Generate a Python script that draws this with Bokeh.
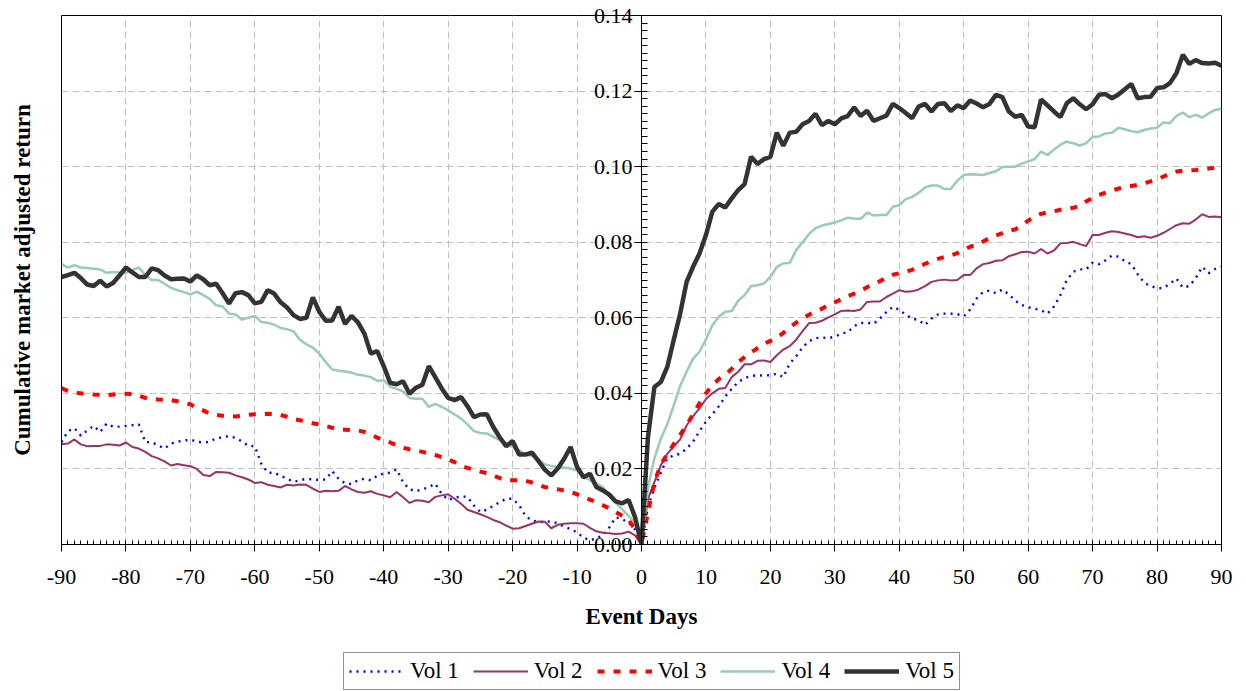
from bokeh.plotting import figure
from bokeh.layouts import column
from bokeh.models import (Legend, LegendItem, FixedTicker, Range1d, LinearAxis)
from bokeh.core.properties import value
from bokeh.embed import file_html
from bokeh.resources import INLINE

days = list(range(-90, 91))

vol1 = [
    0.0271, 0.0300, 0.0308, 0.0288, 0.0302, 0.0314, 0.0298, 0.0320, 0.0312, 0.0312,
    0.0314, 0.0316, 0.0318, 0.0271, 0.0271, 0.0262, 0.0254, 0.0267, 0.0272, 0.0275,
    0.0278, 0.0272, 0.0270, 0.0272, 0.0281, 0.0284, 0.0287, 0.0282, 0.0273, 0.0261,
    0.0260, 0.0214, 0.0190, 0.0190, 0.0182, 0.0174, 0.0166, 0.0170, 0.0174, 0.0172,
    0.0171, 0.0172, 0.0194, 0.0174, 0.0162, 0.0160, 0.0170, 0.0174, 0.0170, 0.0182,
    0.0188, 0.0190, 0.0199, 0.0165, 0.0146, 0.0141, 0.0146, 0.0152, 0.0161, 0.0134,
    0.0118, 0.0124, 0.0127, 0.0126, 0.0103, 0.0086, 0.0092, 0.0102, 0.0112, 0.0121,
    0.0121, 0.0105, 0.0075, 0.0064, 0.0059, 0.0060, 0.0061, 0.0056, 0.0047, 0.0041,
    0.0032, 0.0018, 0.0011, 0.0016, 0.0025, 0.0045, 0.0072, 0.0067, 0.0058, 0.0040,
    0.0000,
    0.0100, 0.0150, 0.0190, 0.0228, 0.0236, 0.0240, 0.0254, 0.0272, 0.0300, 0.0325,
    0.0345, 0.0366, 0.0392, 0.0412, 0.0430, 0.0440, 0.0446, 0.0448, 0.0447, 0.0448,
    0.0452, 0.0443, 0.0479, 0.0498, 0.0522, 0.0538, 0.0546, 0.0548, 0.0546, 0.0550,
    0.0558, 0.0562, 0.0578, 0.0586, 0.0587, 0.0584, 0.0598, 0.0615, 0.0629, 0.0621,
    0.0608, 0.0598, 0.0594, 0.0581, 0.0598, 0.0609, 0.0611, 0.0611, 0.0610, 0.0604,
    0.0622, 0.0651, 0.0668, 0.0672, 0.0665, 0.0675, 0.0662, 0.0645, 0.0634, 0.0628,
    0.0624, 0.0620, 0.0611, 0.0630, 0.0660, 0.0700, 0.0722, 0.0728, 0.0728, 0.0746,
    0.0742, 0.0752, 0.0765, 0.0762, 0.0750, 0.0742, 0.0715, 0.0693, 0.0684, 0.0678,
    0.0679, 0.0690, 0.0704, 0.0680, 0.0684, 0.0705, 0.0735, 0.0718, 0.0729, 0.0735,
]

vol2 = [
    0.0265, 0.0267, 0.0278, 0.0265, 0.0260, 0.0261, 0.0261, 0.0265, 0.0264, 0.0262,
    0.0270, 0.0258, 0.0254, 0.0245, 0.0234, 0.0228, 0.0220, 0.0209, 0.0213, 0.0210,
    0.0207, 0.0200, 0.0184, 0.0181, 0.0192, 0.0191, 0.0190, 0.0183, 0.0178, 0.0172,
    0.0163, 0.0165, 0.0158, 0.0155, 0.0151, 0.0158, 0.0156, 0.0159, 0.0158, 0.0148,
    0.0139, 0.0142, 0.0141, 0.0142, 0.0155, 0.0146, 0.0139, 0.0137, 0.0141, 0.0134,
    0.0130, 0.0125, 0.0139, 0.0125, 0.0110, 0.0117, 0.0116, 0.0112, 0.0126, 0.0130,
    0.0133, 0.0121, 0.0108, 0.0092, 0.0086, 0.0080, 0.0073, 0.0065, 0.0059, 0.0050,
    0.0042, 0.0043, 0.0049, 0.0055, 0.0061, 0.0060, 0.0043, 0.0052, 0.0055, 0.0056,
    0.0056, 0.0055, 0.0044, 0.0035, 0.0031, 0.0030, 0.0028, 0.0029, 0.0034, 0.0024,
    0.0000,
    0.0120, 0.0165, 0.0210, 0.0240, 0.0260, 0.0278, 0.0315, 0.0340, 0.0360, 0.0385,
    0.0400, 0.0412, 0.0414, 0.0443, 0.0457, 0.0477, 0.0477, 0.0486, 0.0487, 0.0483,
    0.0501, 0.0516, 0.0525, 0.0542, 0.0565, 0.0586, 0.0587, 0.0592, 0.0601, 0.0609,
    0.0618, 0.0619, 0.0618, 0.0622, 0.0642, 0.0643, 0.0643, 0.0655, 0.0664, 0.0673,
    0.0669, 0.0670, 0.0675, 0.0684, 0.0695, 0.0699, 0.0701, 0.0699, 0.0700, 0.0713,
    0.0713, 0.0731, 0.0742, 0.0745, 0.0751, 0.0752, 0.0763, 0.0768, 0.0774, 0.0775,
    0.0770, 0.0782, 0.0770, 0.0778, 0.0797, 0.0798, 0.0801, 0.0795, 0.0790, 0.0819,
    0.0819, 0.0825, 0.0829, 0.0827, 0.0823, 0.0819, 0.0813, 0.0816, 0.0812, 0.0817,
    0.0825, 0.0835, 0.0845, 0.0850, 0.0849, 0.0860, 0.0874, 0.0867, 0.0868, 0.0866,
]

vol3 = [
    0.0414, 0.0406, 0.0402, 0.0400, 0.0399, 0.0397, 0.0396, 0.0395, 0.0397, 0.0399,
    0.0399, 0.0398, 0.0394, 0.0388, 0.0386, 0.0384, 0.0383, 0.0382, 0.0379, 0.0375,
    0.0371, 0.0362, 0.0355, 0.0346, 0.0343, 0.0341, 0.0340, 0.0339, 0.0341, 0.0343,
    0.0345, 0.0345, 0.0346, 0.0345, 0.0343, 0.0338, 0.0332, 0.0329, 0.0325, 0.0321,
    0.0318, 0.0314, 0.0309, 0.0305, 0.0304, 0.0303, 0.0302, 0.0298, 0.0291, 0.0283,
    0.0276, 0.0270, 0.0263, 0.0256, 0.0252, 0.0249, 0.0245, 0.0241, 0.0237, 0.0231,
    0.0225, 0.0218, 0.0208, 0.0203, 0.0198, 0.0193, 0.0189, 0.0183, 0.0176, 0.0170,
    0.0170, 0.0170, 0.0169, 0.0164, 0.0158, 0.0152, 0.0149, 0.0146, 0.0143, 0.0139,
    0.0133, 0.0126, 0.0119, 0.0112, 0.0104, 0.0096, 0.0086, 0.0076, 0.0066, 0.0040,
    0.0000,
    0.0085, 0.0165, 0.0212, 0.0240, 0.0266, 0.0290, 0.0316, 0.0345, 0.0374, 0.0400,
    0.0422, 0.0438, 0.0449, 0.0465, 0.0483, 0.0496, 0.0508, 0.0520, 0.0531, 0.0539,
    0.0547, 0.0560, 0.0575, 0.0587, 0.0598, 0.0608, 0.0617, 0.0624, 0.0634, 0.0641,
    0.0649, 0.0657, 0.0664, 0.0672, 0.0681, 0.0689, 0.0697, 0.0706, 0.0714, 0.0718,
    0.0722, 0.0727, 0.0735, 0.0743, 0.0750, 0.0756, 0.0761, 0.0765, 0.0771, 0.0780,
    0.0788, 0.0794, 0.0802, 0.0811, 0.0818, 0.0824, 0.0830, 0.0834, 0.0845, 0.0857,
    0.0868, 0.0875, 0.0879, 0.0882, 0.0886, 0.0889, 0.0891, 0.0897, 0.0908, 0.0917,
    0.0925, 0.0931, 0.0937, 0.0942, 0.0946, 0.0949, 0.0952, 0.0956, 0.0961, 0.0966,
    0.0974, 0.0982, 0.0987, 0.0989, 0.0990, 0.0991, 0.0993, 0.0995, 0.0997, 0.0998,
]

vol4 = [
    0.0742, 0.0733, 0.0739, 0.0733, 0.0732, 0.0730, 0.0728, 0.0719, 0.0721, 0.0720,
    0.0719, 0.0726, 0.0733, 0.0713, 0.0700, 0.0700, 0.0690, 0.0679, 0.0673, 0.0668,
    0.0662, 0.0669, 0.0660, 0.0650, 0.0633, 0.0630, 0.0611, 0.0609, 0.0595, 0.0600,
    0.0605, 0.0589, 0.0587, 0.0582, 0.0573, 0.0570, 0.0564, 0.0542, 0.0530, 0.0521,
    0.0505, 0.0483, 0.0463, 0.0460, 0.0458, 0.0455, 0.0449, 0.0447, 0.0443, 0.0433,
    0.0435, 0.0418, 0.0412, 0.0405, 0.0388, 0.0386, 0.0386, 0.0364, 0.0372, 0.0364,
    0.0355, 0.0344, 0.0333, 0.0318, 0.0300, 0.0295, 0.0294, 0.0285, 0.0276, 0.0268,
    0.0258, 0.0250, 0.0238, 0.0235, 0.0225, 0.0212, 0.0208, 0.0205, 0.0204, 0.0201,
    0.0196, 0.0182, 0.0170, 0.0162, 0.0152, 0.0131, 0.0110, 0.0093, 0.0075, 0.0058,
    0.0000,
    0.0150, 0.0228, 0.0280, 0.0318, 0.0368, 0.0420, 0.0457, 0.0492, 0.0510, 0.0543,
    0.0580, 0.0603, 0.0616, 0.0618, 0.0645, 0.0660, 0.0684, 0.0686, 0.0691, 0.0708,
    0.0735, 0.0744, 0.0745, 0.0779, 0.0800, 0.0822, 0.0837, 0.0844, 0.0848, 0.0852,
    0.0858, 0.0865, 0.0863, 0.0862, 0.0878, 0.0871, 0.0872, 0.0872, 0.0894, 0.0898,
    0.0914, 0.0920, 0.0931, 0.0945, 0.0950, 0.0950, 0.0941, 0.0941, 0.0963, 0.0978,
    0.0980, 0.0979, 0.0978, 0.0983, 0.0988, 0.0999, 0.1000, 0.1000, 0.1008, 0.1014,
    0.1020, 0.1040, 0.1031, 0.1045, 0.1058, 0.1066, 0.1062, 0.1056, 0.1062, 0.1079,
    0.1080, 0.1088, 0.1090, 0.1103, 0.1099, 0.1094, 0.1091, 0.1097, 0.1101, 0.1103,
    0.1117, 0.1115, 0.1134, 0.1143, 0.1131, 0.1137, 0.1130, 0.1141, 0.1150, 0.1153,
]

vol5 = [
    0.0708, 0.0713, 0.0719, 0.0705, 0.0688, 0.0684, 0.0698, 0.0683, 0.0692, 0.0712,
    0.0733, 0.0720, 0.0708, 0.0708, 0.0731, 0.0726, 0.0712, 0.0702, 0.0703, 0.0704,
    0.0696, 0.0712, 0.0702, 0.0686, 0.0690, 0.0665, 0.0638, 0.0665, 0.0668, 0.0660,
    0.0638, 0.0642, 0.0673, 0.0664, 0.0641, 0.0627, 0.0607, 0.0597, 0.0600, 0.0654,
    0.0616, 0.0592, 0.0593, 0.0629, 0.0584, 0.0605, 0.0588, 0.0558, 0.0505, 0.0512,
    0.0472, 0.0428, 0.0424, 0.0432, 0.0399, 0.0415, 0.0423, 0.0472, 0.0443, 0.0413,
    0.0388, 0.0382, 0.0390, 0.0366, 0.0337, 0.0344, 0.0345, 0.0311, 0.0284, 0.0260,
    0.0274, 0.0238, 0.0238, 0.0243, 0.0221, 0.0198, 0.0183, 0.0201, 0.0227, 0.0258,
    0.0205, 0.0178, 0.0187, 0.0152, 0.0143, 0.0132, 0.0114, 0.0109, 0.0118, 0.0072,
    0.0000,
    0.0284, 0.0417, 0.0430, 0.0470, 0.0541, 0.0611, 0.0695, 0.0735, 0.0770, 0.0819,
    0.0881, 0.0901, 0.0892, 0.0916, 0.0938, 0.0954, 0.1026, 0.1007, 0.1020, 0.1026,
    0.1090, 0.1055, 0.1090, 0.1092, 0.1112, 0.1121, 0.1140, 0.1110, 0.1121, 0.1112,
    0.1128, 0.1134, 0.1157, 0.1134, 0.1148, 0.1121, 0.1128, 0.1135, 0.1166, 0.1155,
    0.1142, 0.1128, 0.1159, 0.1166, 0.1146, 0.1166, 0.1168, 0.1147, 0.1162, 0.1155,
    0.1175, 0.1167, 0.1157, 0.1166, 0.1190, 0.1184, 0.1146, 0.1132, 0.1137, 0.1106,
    0.1104, 0.1178, 0.1162, 0.1146, 0.1131, 0.1168, 0.1181, 0.1165, 0.1152, 0.1165,
    0.1190, 0.1192, 0.1181, 0.1191, 0.1205, 0.1219, 0.1181, 0.1184, 0.1185, 0.1208,
    0.1210, 0.1221, 0.1247, 0.1296, 0.1272, 0.1282, 0.1274, 0.1273, 0.1275, 0.1267,
]

series_names = ["Vol 1", "Vol 2", "Vol 3", "Vol 4", "Vol 5"]
x_ticks = [-90, -80, -70, -60, -50, -40, -30, -20, -10, 0, 10, 20, 30, 40, 50, 60, 70, 80, 90]
x_tick_labels = ["-90", "-80", "-70", "-60", "-50", "-40", "-30", "-20", "-10", "0",
                 "10", "20", "30", "40", "50", "60", "70", "80", "90"]
y_ticks = [0.0, 0.02, 0.04, 0.06, 0.08, 0.10, 0.12, 0.14]
y_tick_labels = ["0.00", "0.02", "0.04", "0.06", "0.08", "0.10", "0.12", "0.14"]

FONT = "Liberation Serif"

styles = [
    dict(line_color="#0000FF", line_width=2.4, line_dash="2 5"),
    dict(line_color="#993366", line_width=2),
    dict(line_color="#FF0000", line_width=4, line_dash="7 9"),
    dict(line_color="#99CCB0", line_width=2.5),
    dict(line_color="#333333", line_width=4.5),
]

p = figure(width=1246, height=650,
           x_range=Range1d(-90, 90), y_range=Range1d(0, 0.14),
           output_backend="svg", toolbar_location=None,
           min_border_left=61, min_border_right=25,
           min_border_top=15, min_border_bottom=106)
p.background_fill_color = "white"
p.border_fill_color = "white"
p.outline_line_color = "black"
p.outline_line_width = 1
p.outline_line_alpha = 1

for g in (p.xgrid, p.ygrid):
    g.grid_line_color = "#BFBFBF"
    g.grid_line_dash = "7 4"
    g.grid_line_width = 1

xa = p.xaxis[0]
xa.ticker = FixedTicker(ticks=x_ticks, minor_ticks=days)
xa.major_label_overrides = dict(zip(x_ticks, x_tick_labels))
xa.axis_label = "Event Days"
xa.axis_label_text_font = FONT
xa.axis_label_text_font_style = "bold"
xa.axis_label_text_font_size = "23px"
xa.axis_label_text_color = "black"
xa.axis_label_standoff = 17
xa.major_label_text_font = FONT
xa.major_label_text_font_size = "22px"
xa.major_label_text_color = "black"
xa.major_label_standoff = 18
xa.axis_line_color = "black"
xa.major_tick_line_color = "black"
xa.minor_tick_line_color = "black"
xa.major_tick_in = 4
xa.major_tick_out = 7
xa.minor_tick_in = 4
xa.minor_tick_out = 0

# y axis line and ticks placed at x = 0 (labels drawn separately so they are not clipped)
ya = p.yaxis[0]
ya.fixed_location = 0
ya.ticker = FixedTicker(ticks=y_ticks, minor_ticks=[i * 0.002 for i in range(71)])
ya.major_label_text_color = None
ya.axis_line_color = "black"
ya.major_tick_line_color = "black"
ya.minor_tick_line_color = "black"
ya.major_tick_in = 0
ya.major_tick_out = 7
ya.minor_tick_in = 6
ya.minor_tick_out = 0

# y axis title on the left edge
lab_axis = LinearAxis(ticker=FixedTicker(ticks=[]),
                      axis_label="Cumulative market adjusted return",
                      axis_label_text_font=FONT, axis_label_text_font_size="23px",
                      axis_label_text_font_style="bold", axis_label_text_color="black",
                      axis_label_standoff=27,
                      axis_line_color=None, major_tick_line_color=None,
                      minor_tick_line_color=None, major_tick_out=0, major_tick_in=0,
                      minor_tick_out=0, minor_tick_in=0, major_label_standoff=0,
                      major_label_text_font_size="0px")
p.add_layout(lab_axis, "left")

vols = [vol1, vol2, vol3, vol4, vol5]
for v, st in zip(vols, styles):
    p.line(days, v, **st)

p.text(x=[0] * len(y_ticks), y=y_ticks, text=y_tick_labels,
       text_align="right", text_baseline="middle", x_offset=-9,
       text_font=value(FONT), text_font_size="22px", text_color="black",
       level="overlay")

# legend strip under the chart
lf = figure(width=1246, height=41, output_backend="svg", toolbar_location=None,
            x_axis_location=None, y_axis_location=None,
            x_range=Range1d(-90, 90), y_range=Range1d(1, 2),
            min_border=0, min_border_left=0, min_border_right=0,
            min_border_top=0, min_border_bottom=0)
lf.outline_line_color = None
lf.xgrid.visible = False
lf.ygrid.visible = False
items = []
for name, v, st in zip(series_names, vols, styles):
    r = lf.line(days, v, **st)
    items.append(LegendItem(label=name, renderers=[r]))
legend = Legend(items=items, orientation="horizontal", location=(282, 1))
legend.label_text_font = FONT
legend.label_text_font_size = "23px"
legend.label_text_color = "black"
legend.glyph_width = 55
legend.glyph_height = 20
legend.label_standoff = 6
legend.spacing = 14
legend.padding = 5
legend.margin = 0
legend.border_line_color = "#222222"
legend.border_line_width = 1
legend.background_fill_alpha = 1
lf.add_layout(legend, "center")

layout = column(p, lf, spacing=0)
open("out.html", "w").write(file_html(layout, INLINE))
